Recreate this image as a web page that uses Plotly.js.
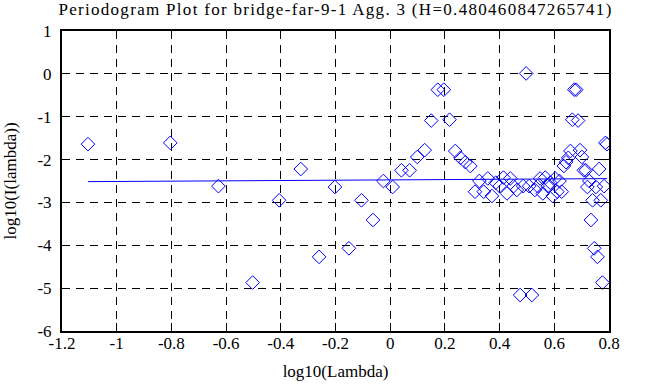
<!DOCTYPE html>
<html>
<head>
<meta charset="utf-8">
<script src="https://cdn.plot.ly/plotly-3.0.1.min.js"></script>
<style>
html,body{margin:0;padding:0;background:#fff;}
#chart{width:663px;height:387px;}
.gtitle{letter-spacing:1.3px;}
</style>
</head>
<body>
<div id="chart"></div>
<script>
// log10(Lambda) for each periodogram ordinate
const logLambda = [
  -1.105, -0.804, -0.628, -0.503, -0.406, -0.327, -0.260, -0.202, -0.151, -0.105,
  -0.063, -0.025, 0.009, 0.041, 0.071, 0.099, 0.126, 0.150, 0.174, 0.196,
  0.217, 0.238, 0.257, 0.275, 0.293, 0.310, 0.326, 0.342, 0.357, 0.372,
  0.386, 0.400, 0.414, 0.427, 0.439, 0.451, 0.463, 0.475, 0.486, 0.497,
  0.508, 0.518, 0.529, 0.539, 0.548, 0.558, 0.567, 0.576, 0.585, 0.594,
  0.603, 0.611, 0.619, 0.627, 0.635, 0.643, 0.651, 0.659, 0.666, 0.673,
  0.680, 0.687, 0.694, 0.701, 0.708, 0.715, 0.721, 0.728, 0.734, 0.740,
  0.746, 0.752, 0.758, 0.764, 0.770, 0.776, 0.782, 0.787, 0.793
];
// log10(I(lambda))
const logI = [
  -1.64, -1.61, -2.62, -4.87, -2.95, -2.22, -4.27, -2.64, -4.07, -2.95,
  -3.41, -2.50, -2.64, -2.25, -2.25, -1.94, -1.78, -1.09, -0.37, -0.37,
  -1.07, -1.80, -1.96, -2.06, -2.15, -2.75, -2.50, -2.75, -2.44, -2.85,
  -2.54, -2.62, -2.42, -2.79, -2.44, -2.62, -2.71, -5.16, -2.62, 0.01,
  -2.62, -5.16, -2.71, -2.62, -2.44, -2.79, -2.42, -2.62, -2.54, -2.85,
  -2.44, -2.75, -2.50, -2.75, -2.15, -2.06, -1.96, -1.80, -1.07, -0.37,
  -0.37, -1.09, -1.78, -1.94, -2.25, -2.25, -2.64, -2.50, -3.41, -2.95,
  -4.07, -2.64, -4.27, -2.22, -2.95, -4.87, -2.62, -1.61, -1.64
];
// fitted line end points
const fitX = [-1.105, 0.793];
const fitY = [-2.515, -2.445];

const xTicks = [-1.2, -1, -0.8, -0.6, -0.4, -0.2, 0, 0.2, 0.4, 0.6, 0.8];
const xTickText = ['-1.2', '-1', '-0.8', '-0.6', '-0.4', '-0.2', '0', '0.2', '0.4', '0.6', '0.8'];
const yTicks = [-6, -5, -4, -3, -2, -1, 0, 1];
const yTickText = ['-6', '-5', '-4', '-3', '-2', '-1', '0', '1'];

const titleText = 'Periodogram Plot for bridge-far-9-1 Agg. 3 (H=0.480460847265741)';

const FONT = 'Liberation Serif, Times New Roman, serif';

const traces = [
  {
    x: logLambda, y: logI, type: 'scatter', mode: 'markers',
    marker: { symbol: 'diamond-open', size: 10.5, color: '#0000ff', line: { width: 1, color: '#0000ff' } },
    hoverinfo: 'skip'
  },
  {
    x: fitX, y: fitY, type: 'scatter', mode: 'lines',
    line: { color: '#0000ff', width: 1 },
    hoverinfo: 'skip'
  }
];

const axisCommon = {
  showline: true, linecolor: '#000', linewidth: 2, mirror: 'allticks',
  ticks: 'inside', ticklen: 8, tickwidth: 1, tickcolor: '#000',
  showgrid: true, gridcolor: '#000', gridwidth: 1, griddash: '8px,6px',
  zeroline: false,
  tickfont: { family: FONT, size: 17, color: '#000' },
  tickmode: 'array'
};

const layout = {
  width: 663, height: 387,
  margin: { l: 62, r: 54, t: 31, b: 56, pad: 0 },
  paper_bgcolor: '#fff', plot_bgcolor: '#fff',
  showlegend: false,
  font: { family: FONT, color: '#000' },
  title: {
    text: titleText, font: { family: FONT, size: 17, color: '#000' },
    x: 0.5, xref: 'paper', xanchor: 'center', y: 0.992, yref: 'container', yanchor: 'top'
  },
  xaxis: Object.assign({}, axisCommon, {
    range: [-1.2, 0.8], tickvals: xTicks, ticktext: xTickText, ticklabelstandoff: -4,
    title: { text: 'log10(Lambda)', font: { family: FONT, size: 17, color: '#000' }, standoff: 13 }
  }),
  yaxis: Object.assign({}, axisCommon, {
    range: [-6, 1], tickvals: yTicks, ticktext: yTickText, ticklabelstandoff: 5,
    title: { text: 'log10(I(lambda))', font: { family: FONT, size: 17, color: '#000' }, standoff: 16 }
  })
};

Plotly.newPlot('chart', traces, layout, { staticPlot: true, displayModeBar: false });
</script>
</body>
</html>
